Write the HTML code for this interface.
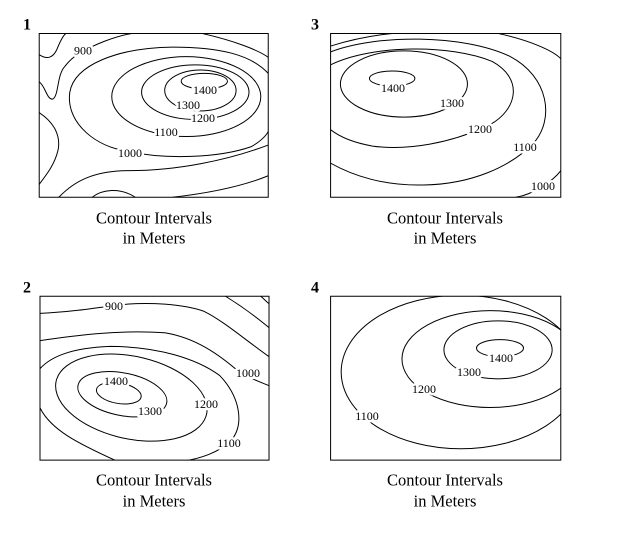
<!DOCTYPE html>
<html><head><meta charset="utf-8">
<style>
html,body{margin:0;padding:0;background:#fff;}
svg{display:block;}
text{font-family:"Liberation Serif",serif;fill:#000;}
.lbl{font-size:12px;stroke:#fff;stroke-width:5px;paint-order:stroke;stroke-linejoin:round;}
.num{font-size:16px;font-weight:bold;}
.cap{font-size:16.5px;}
</style></head>
<body>
<svg id="chart" width="618" height="535" viewBox="0 0 618 535">
<defs>
<clipPath id="c1"><rect x="100" y="98" width="584" height="480"/></clipPath>
<clipPath id="c2"><rect x="102" y="868" width="584" height="480"/></clipPath>
<clipPath id="c3"><rect x="843" y="98" width="587" height="480"/></clipPath>
<clipPath id="c4"><rect x="843" y="868" width="587" height="480"/></clipPath>
</defs>
<g id="lines" transform="scale(0.39216,0.34130)" fill="none" stroke="#000"></g>
<g id="labels"></g>
</svg>
<script>
// Panel boxes (reference coordinates, scaled)
const boxes = [[100,98,584,480,'c1'],[102,868,584,480,'c2'],[843,98,587,480,'c3'],[843,868,587,480,'c4']];
// Ellipse contours: [panel, level, cx, cy, rx, ry, rotate]
const p1Ellipses = [[0,1400,521,238,59,23,0],[0,1300,511,265,91,60,0],[0,1200,498,270,137,80,0],[0,1100,475,283,190,117,0]];
const p2Ellipses = [[1,1400,303,1152,58,30,12],[1,1300,312,1155,116,62,14],[1,1200,335,1165,198,120,16]];
const p3Ellipses = [[2,1400,1000,230,58,22,0],[2,1300,1030,246,162,97,0]];
const p4Ellipses = [[3,1400,1275,1020,60,25,0],[3,1300,1270,1025,138,85,0],[3,1200,1250,1052,225,142,0],[3,1100,1175,1090,305,225,0]];
// Free-form contours: [panel, name, path]
const p1Paths = [
 [0,'900a','M100,160 C120,175 135,170 145,145 C152,125 160,105 168,98'],
 [0,'900b','M100,240 C115,250 120,295 135,290 C150,280 145,220 165,195 C175,180 190,165 200,158 C240,130 290,108 335,98'],
 [0,'1000','M684,215 C640,160 560,138 440,138 C300,140 190,190 178,270 C168,350 230,420 310,440 C420,470 560,462 640,430 C665,415 680,395 684,385'],
 [0,'top-right','M515,98 C600,120 660,148 684,168'],
 [0,'lower-a','M150,578 C190,530 240,500 330,500 C450,500 580,470 684,425'],
 [0,'lower-b','M440,578 C540,565 620,545 684,515'],
 [0,'bump','M235,578 C260,555 305,548 345,578'],
 [0,'left-bump','M100,330 C140,360 155,400 148,440 C140,480 120,510 100,540']
];
const p2Paths = [
 [1,'900','M102,918 C170,915 230,905 290,895 C380,882 470,892 520,912 C570,940 630,1000 686,1045'],
 [1,'tr-a','M575,868 C620,900 660,935 686,960'],
 [1,'tr-b','M665,868 C675,878 680,885 686,890'],
 [1,'1000','M102,998 C180,985 300,965 420,975 C500,990 560,1040 610,1090 C640,1110 665,1120 686,1130'],
 [1,'1100','M102,1080 C130,1045 180,1020 280,1015 C400,1015 500,1050 560,1100 C610,1160 625,1240 590,1290 C560,1325 510,1345 460,1352'],
 [1,'1100b','M102,1195 C130,1260 200,1300 300,1352']
];
const p3Paths = [
 [2,'outer','M843,135 C890,118 940,105 1000,98'],
 [2,'1100','M843,152 C960,100 1180,100 1300,165 C1400,225 1415,350 1360,420 C1300,490 1200,540 1080,542 C980,545 900,515 843,478'],
 [2,'1200','M843,190 C950,130 1150,130 1255,180 C1335,230 1320,320 1250,365 C1150,420 1040,442 950,428 C900,418 865,400 843,380'],
 [2,'1000-top','M1270,98 C1350,118 1410,148 1430,172'],
 [2,'1000-bot','M1315,578 C1360,570 1410,530 1430,500']
];
const labels = [
 [83,50.5,'900'],[205,90,'1400'],[188,105,'1300'],[203,118,'1200'],[166,132,'1100'],[130,153,'1000'],
 [393,88,'1400'],[452,103,'1300'],[480,129,'1200'],[525,147,'1100'],[543,186,'1000'],
 [114,306,'900'],[116,381,'1400'],[150,411,'1300'],[206,404,'1200'],[248,373,'1000'],[229,443,'1100'],
 [501,358,'1400'],[469,372,'1300'],[424,389,'1200'],[367,416,'1100']
];
const panelNums = [[27,25,'1'],[315,25,'3'],[27,288,'2'],[315,288,'4']];
const captionX = [154,445,154,445];
const captionY = [[218,238],[218,238],[480,501],[480,501]];

const NS='http://www.w3.org/2000/svg';
const lg=document.getElementById('lines'), lb=document.getElementById('labels');
function mk(tag,attrs,parent){const e=document.createElementNS(NS,tag);for(const k in attrs)e.setAttribute(k,attrs[k]);parent.appendChild(e);return e;}
const groups = boxes.map((b,i)=>{
  const g=mk('g',{'clip-path':'url(#'+b[4]+')'},lg);
  
  
  return g;
});
[...p1Ellipses,...p2Ellipses,...p3Ellipses,...p4Ellipses].forEach(e=>{
  const el=mk('ellipse',{cx:e[2],cy:e[3],rx:e[4],ry:e[5],transform:'rotate('+e[6]+' '+e[2]+' '+e[3]+')','vector-effect':'non-scaling-stroke','stroke-width':1},groups[e[0]]);
  
  
});
[...p1Paths,...p2Paths,...p3Paths].forEach(p=>{
  const el=mk('path',{d:p[2],'vector-effect':'non-scaling-stroke','stroke-width':1},groups[p[0]]);
  
  
});
boxes.forEach((b,i)=>{
  const r=mk('rect',{x:b[0],y:b[1],width:b[2],height:b[3],'vector-effect':'non-scaling-stroke','stroke-width':1},lg);
  
  
});
labels.forEach(l=>{
  const t=mk('text',{x:l[0],y:l[1],'text-anchor':'middle','dominant-baseline':'central',class:'lbl'},lb);
  t.textContent=l[2];
  
  
});
panelNums.forEach(n=>{
  const t=mk('text',{x:n[0],y:n[1],'text-anchor':'middle','dominant-baseline':'central',class:'num'},lb);
  t.textContent=n[2];
  
  
});
captionX.forEach((x,i)=>{
  ['Contour Intervals','in Meters'].forEach((s,j)=>{
    const t=mk('text',{x:x,y:captionY[i][j],'text-anchor':'middle','dominant-baseline':'central',class:'cap'},lb);
    t.textContent=s;
    
    
  });
});
</script>
</body></html>
